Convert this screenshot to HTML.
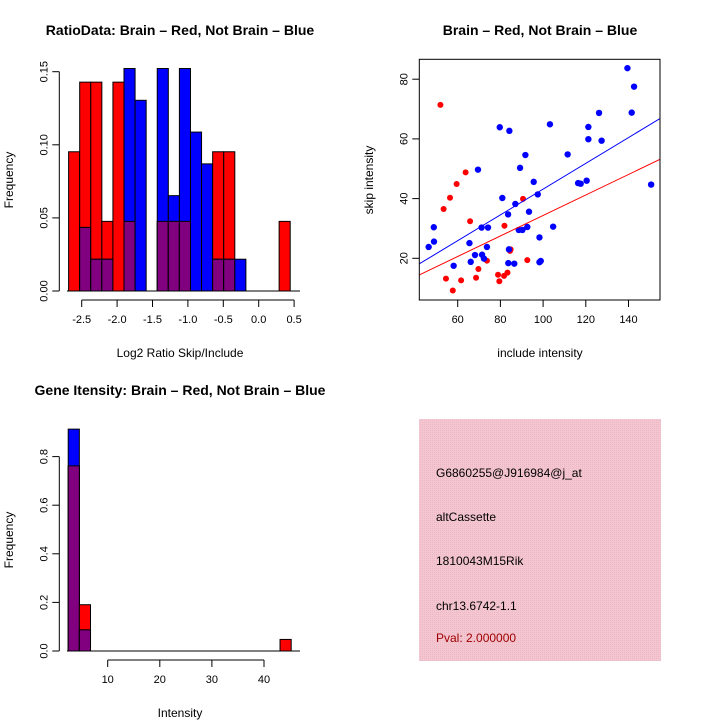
<!DOCTYPE html>
<html><head><meta charset="utf-8"><style>
html,body{margin:0;padding:0;background:#fff;}
svg{display:block;font-family:"Liberation Sans",Helvetica,sans-serif;}
</style></head><body>
<svg id="c" width="720" height="720" viewBox="0 0 720 720">
<defs>
<pattern id="pk" width="2" height="2" patternUnits="userSpaceOnUse"><rect width="2" height="2" fill="#f5c6d0"/><rect width="1" height="1" fill="#e8b8c6"/></pattern>
</defs>
<text x="180" y="35" text-anchor="middle" font-size="14" font-weight="bold">RatioData: Brain – Red, Not Brain – Blue</text>
<text x="540" y="35" text-anchor="middle" font-size="14" font-weight="bold">Brain – Red, Not Brain – Blue</text>
<text x="180" y="395" text-anchor="middle" font-size="14" font-weight="bold">Gene Itensity: Brain – Red, Not Brain – Blue</text>
<text x="180" y="357" text-anchor="middle" font-size="12">Log2 Ratio Skip/Include</text>
<text transform="translate(13,180) rotate(-90)" text-anchor="middle" font-size="12">Frequency</text>
<text x="540" y="357" text-anchor="middle" font-size="12">include intensity</text>
<text transform="translate(373,180) rotate(-90)" text-anchor="middle" font-size="12">skip intensity</text>
<text x="180" y="717" text-anchor="middle" font-size="12">Intensity</text>
<text transform="translate(13,540) rotate(-90)" text-anchor="middle" font-size="12">Frequency</text>
<g>
<rect x="419" y="419" width="242" height="242" fill="url(#pk)"/>
<text x="436" y="477" font-size="12">G6860255@J916984@j_at</text>
<text x="436" y="521" font-size="12">altCassette</text>
<text x="436" y="565" font-size="12">1810043M15Rik</text>
<text x="436" y="610" font-size="12">chr13.6742-1.1</text>
<text x="436" y="642" font-size="12" fill="#a00000">Pval: 2.000000</text>
</g>
<g id="g1"></g><g id="g2"></g><g id="g3"></g>
</svg>
<script>
// Ratio histogram data
const ratioBinStart = -2.685;
const ratioBinWidth = 0.1565;
const ratioRed  = [2/21,3/21,3/21,1/21,3/21,1/21,0,0,1/21,1/21,1/21,0,0,2/21,2/21,0,0,0,0,1/21];
const ratioBlue = [0,2/46,1/46,1/46,0,7/46,6/46,0,7/46,3/46,7/46,5/46,4/46,1/46,1/46,1/46,0,0,0,0];
const ratioXTicks = [-2.5,-2.0,-1.5,-1.0,-0.5,0.0,0.5];
const ratioYTicks = [0,0.05,0.10,0.15];
// Intensity histogram data
const intBinStart = 2.42;
const intBinWidth = 2.14;
const intRed  = [16/21,4/21,0,0,0,0,0,0,0,0,0,0,0,0,0,0,0,0,0,1/21];
const intBlue = [42/46,4/46,0,0,0,0,0,0,0,0,0,0,0,0,0,0,0,0,0,0];
const intXTicks = [10,20,30,40];
const intYTicks = [0,0.2,0.4,0.6,0.8];
// Scatter data
const redX = [51.9,63.7,59.5,56.4,53.4,65.8,81.9,90.6,84.8,84.5,73.7,69.7,92.6,54.5,61.6,68.6,57.7,78.9,79.5,81.7,83.3];
const redY = [71.4,48.8,44.9,40.3,36.5,32.4,30.9,39.9,23.0,22.5,19.2,16.4,19.4,13.2,12.6,13.5,9.2,14.5,12.3,14.1,15.2];
const blueX = [139.5,142.6,141.5,126.2,103.2,79.7,84.2,121.2,121.2,127.4,91.7,111.5,89.2,69.5,95.6,116.4,117.6,120.4,150.6,80.9,97.5,87.0,93.4,83.6,48.8,71.2,74.2,88.6,90.3,92.6,104.7,48.9,46.4,98.3,65.5,73.7,84.0,68.1,71.4,72.3,66.1,58.1,83.7,86.5,98.3,98.9];
const blueY = [83.7,77.5,68.8,68.7,64.9,63.9,62.7,64.0,59.9,59.4,54.6,54.8,50.3,49.7,45.6,45.2,45.0,46.0,44.7,40.2,41.4,38.2,35.6,34.7,30.4,30.3,30.3,29.5,29.5,30.5,30.6,25.6,23.8,27.0,25.1,23.8,23.0,21.1,21.2,19.9,18.8,17.5,18.4,18.2,18.7,19.1];
const scXTicks = [60,80,100,120,140];
const scYTicks = [20,40,60,80];

const NS='http://www.w3.org/2000/svg';
function mk(p,t,a){const e=document.createElementNS(NS,t);for(const k in a)e.setAttribute(k,a[k]);p.appendChild(e);return e;}

function hist(g,x,y,start,w,red,blue,prefix){
  for(let i=0;i<red.length;i++){
    const x0=x(start+i*w),x1=x(start+(i+1)*w);
    if(red[i]>0){const r=mk(g,'rect',{x:x0,y:y(red[i]),width:x1-x0,height:y(0)-y(red[i]),fill:'#ff0000',stroke:'#000','stroke-width':1});
      
      }
    if(blue[i]>0){const r=mk(g,'rect',{x:x0,y:y(blue[i]),width:x1-x0,height:y(0)-y(blue[i]),fill:'#0000ff',stroke:'#000','stroke-width':1});
      
      }
    const m=Math.min(red[i],blue[i]);
    if(m>0){const r=mk(g,'rect',{x:x0,y:y(m),width:x1-x0,height:y(0)-y(m),fill:'#800080',stroke:'#000','stroke-width':1});
      
      }
  }
}
function xaxis(g,x,ticks,yl,fmt,prefix){
  mk(g,'line',{x1:x(ticks[0]),x2:x(ticks[ticks.length-1]),y1:yl,y2:yl,stroke:'#000'});
  ticks.forEach(t=>{mk(g,'line',{x1:x(t),x2:x(t),y1:yl,y2:yl+7,stroke:'#000'});
    const l=mk(g,'text',{x:x(t),y:yl+23,'text-anchor':'middle','font-size':11});l.textContent=fmt(t);
    
    });
}
function yaxis(g,y,ticks,xl,fmt,prefix){
  mk(g,'line',{x1:xl,x2:xl,y1:y(ticks[0]),y2:y(ticks[ticks.length-1]),stroke:'#000'});
  ticks.forEach(t=>{mk(g,'line',{x1:xl,x2:xl-7,y1:y(t),y2:y(t),stroke:'#000'});
    const l=mk(g,'text',{transform:`translate(${xl-12},${y(t)}) rotate(-90)`,'text-anchor':'middle','font-size':11});l.textContent=fmt(t);
    
    });
}
// Panel 1
{const g=document.getElementById('g1');
 
 
 const x=v=>81.7+(v+2.5)*70.8, y=v=>291-v*1462;
 hist(g,x,y,ratioBinStart,ratioBinWidth,ratioRed,ratioBlue,'ratio');
 mk(g,'line',{x1:67,x2:300,y1:291,y2:291,stroke:'#000'});
 xaxis(g,x,ratioXTicks,300,t=>t.toFixed(1),'ratio');
 yaxis(g,y,ratioYTicks,59.3,t=>t.toFixed(2),'ratio');}
// Panel 3
{const g=document.getElementById('g3');
 
 
 const x=v=>107.7+(v-10)*5.21, y=v=>651-v*243;
 hist(g,x,y,intBinStart,intBinWidth,intRed,intBlue,'intensity');
 mk(g,'line',{x1:67,x2:300,y1:651,y2:651,stroke:'#000'});
 xaxis(g,x,intXTicks,660,t=>String(t),'intensity');
 yaxis(g,y,intYTicks,59.3,t=>t.toFixed(1),'intensity');}
// Panel 2
{const g=document.getElementById('g2');
 
 
 const x=v=>457.7+(v-60)*2.135, y=v=>258.3-(v-20)*2.985;
 const X0=419.3,X1=660,Y0=59.3,Y1=300;
 const clip=mk(g,'clipPath',{id:'sc'});mk(clip,'rect',{x:X0,y:Y0,width:X1-X0,height:Y1-Y0});
 // regression through the origin
 function fit(xs,ys){let sxy=0,sxx=0;for(let i=0;i<xs.length;i++){sxy+=xs[i]*ys[i];sxx+=xs[i]*xs[i];}return [0,sxy/sxx];}
 const vx0=60+(X0-457.7)/2.135, vx1=60+(X1-457.7)/2.135;
 redX.forEach((v,i)=>{const c=mk(g,'circle',{cx:x(v),cy:y(redY[i]),r:3,fill:'#ff0000'});
   
   });
 blueX.forEach((v,i)=>{const c=mk(g,'circle',{cx:x(v),cy:y(blueY[i]),r:3.2,fill:'#0000ff'});
   
   });
 [[redX,redY,'#ff0000','brain-fit-line'],[blueX,blueY,'#0000ff','not-brain-fit-line']].forEach(([xs,ys,col,nm])=>{
   const [a,b]=fit(xs,ys);const l=mk(g,'line',{x1:x(vx0),y1:y(a+b*vx0),x2:x(vx1),y2:y(a+b*vx1),stroke:col,'stroke-width':1,'clip-path':'url(#sc)'});
   
   });
 const f=mk(g,'rect',{x:X0,y:Y0,width:X1-X0,height:Y1-Y0,fill:'none',stroke:'#000'});
 
 
 scXTicks.forEach(t=>{mk(g,'line',{x1:x(t),x2:x(t),y1:Y1,y2:Y1+7,stroke:'#000'});
   const l=mk(g,'text',{x:x(t),y:Y1+23,'text-anchor':'middle','font-size':11});l.textContent=t;
   
   });
 scYTicks.forEach(t=>{mk(g,'line',{x1:X0,x2:X0-7,y1:y(t),y2:y(t),stroke:'#000'});
   const l=mk(g,'text',{transform:`translate(${X0-12},${y(t)}) rotate(-90)`,'text-anchor':'middle','font-size':11});l.textContent=t;
   
   });}
</script>
</body></html>
